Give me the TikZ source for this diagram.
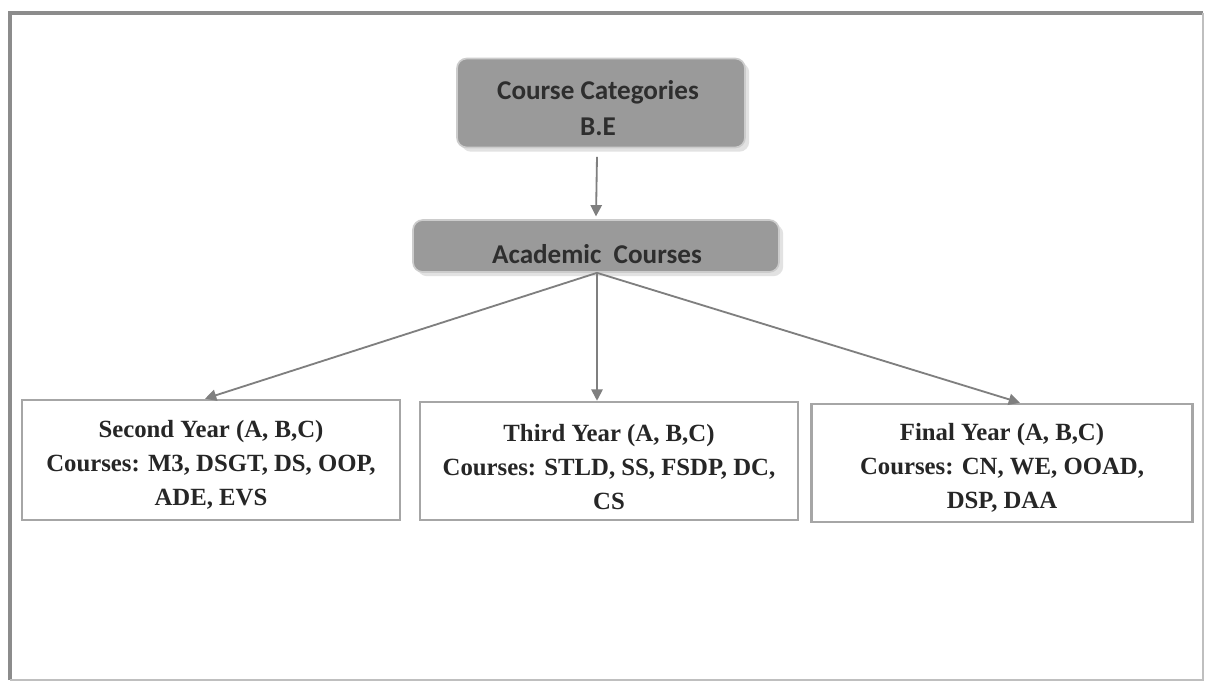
\documentclass[tikz,border=0pt]{standalone}
\usepackage{fontspec}
\setmainfont{Liberation Serif}
\newfontfamily\calib{Carlito}
\usetikzlibrary{arrows.meta,shadows}
\definecolor{boxgray}{HTML}{9A9A9A}
\definecolor{framegray}{HTML}{8C8C8C}
\definecolor{arrowgray}{HTML}{7F7F7F}
\definecolor{textdark}{HTML}{2E2E2E}
\tikzset{
  topbox/.style={draw=white!80!black, line width=1.2pt, fill=boxgray, rounded corners=7pt,
    drop shadow={shadow xshift=3pt, shadow yshift=-3pt, fill=black!22}},
  toptext/.style={text=textdark, font=\calib\bfseries\fontsize{19.3}{26}\selectfont, align=center},
  yearbox/.style={draw=black!35, line width=1.8pt, fill=white},
  yeartext/.style={align=center, text=black!85, font=\bfseries\fontsize{17.6}{24}\selectfont},
  conn/.style={draw=arrowgray, line width=1.3pt, -{Triangle[length=8pt,width=8pt]}}
}
\begin{document}
\begin{tikzpicture}[x=0.025cm,y=-0.025cm]
\useasboundingbox (0,0) rectangle (1205,683);
\fill[white] (0,0) rectangle (1205,683);
\draw[framegray, line width=2.2pt] (10,680) -- (10,13) -- (1203,13);
\draw[black!25, line width=1.2pt] (1203,13) -- (1203,680) -- (10,680);
\node[topbox, minimum width=288*0.025cm, minimum height=89*0.025cm] (cat) at (601,103) {};
\node[toptext] (catt) at (598,108) {Course Categories\\B.E};
\node[topbox, minimum width=366*0.025cm, minimum height=52*0.025cm] (acad) at (596,246) {};
\node[toptext] (acadt) at (597,254) {Academic\ \ Courses};
\node[yearbox, minimum width=378*0.025cm, minimum height=120*0.025cm] (y2) at (211,460) {};
\node[yeartext] (y2t) at (211,465) {Second Year (A, B,C)\\Courses: M3, DSGT, DS, OOP,\\ADE, EVS};
\node[yearbox, minimum width=378*0.025cm, minimum height=118*0.025cm] (y3) at (609,461) {};
\node[yeartext] (y3t) at (609,467) {Third Year (A, B,C)\\Courses: STLD, SS, FSDP, DC,\\CS};
\node[yearbox, minimum width=381*0.025cm, minimum height=118*0.025cm] (y4) at (1002,463) {};
\node[yeartext] (y4t) at (1002,468) {Final Year (A, B,C)\\Courses: CN, WE, OOAD,\\DSP, DAA};
\draw[conn] ([xshift=-4*0.025cm, yshift=-6pt]cat.south) -- ([yshift=2pt]acad.north);
\draw[conn] ([xshift=1*0.025cm]acad.south) -- ([xshift=-6*0.025cm]y2.north);
\draw[conn] ([xshift=1*0.025cm]acad.south) -- ([xshift=-12*0.025cm]y3.north);
\draw[conn] ([xshift=1*0.025cm]acad.south) -- ([xshift=18*0.025cm]y4.north);
\end{tikzpicture}
\end{document}
